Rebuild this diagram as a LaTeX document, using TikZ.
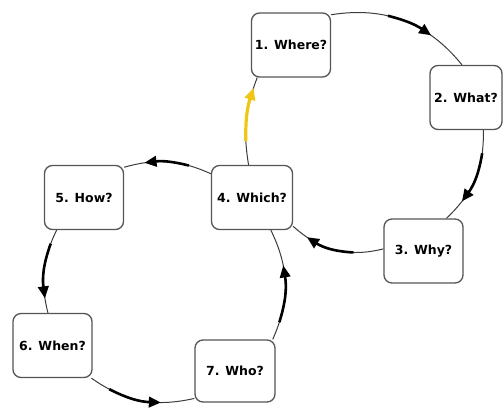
\documentclass[tikz,border=0pt]{standalone}
\usepackage{fontspec}
\setmainfont{DejaVu Sans}
\usetikzlibrary{arrows.meta}
\definecolor{arrowyellow}{RGB}{240,198,20}
\definecolor{boxgray}{RGB}{85,85,85}
\definecolor{linegray}{RGB}{60,60,60}
\newcommand\qconn[7][thickarrow]{%
  \pgfmathsetmacro\qsub{#5*(#7-#6)}%
  \draw[thinline] (#2) to[#4=#5] coordinate[pos=#6] (qa) coordinate[pos=#7] (qb) (#3);
  \draw[#1] (qa) to[#4=\qsub] (qb);
}
\begin{document}
\begin{tikzpicture}[x=1pt,y=1pt,
  qbox/.style={draw=boxgray, line width=1.3pt, rounded corners=8pt, minimum width=79pt,
    minimum height=64pt, font=\bfseries\fontsize{12.5}{14}\selectfont, inner sep=0pt, fill=white},
  thinline/.style={draw=linegray, line width=1pt},
  thickarrow/.style={draw=black, line width=2.6pt, -{Triangle[length=12pt,width=10.5pt]}},
  yellowarrow/.style={draw=arrowyellow, line width=3.2pt, -{Triangle[length=12pt,width=10.5pt]}},
]
\useasboundingbox (0,0) rectangle (503,-409);
\node[qbox] (n1) at (291,-45) {1. Where?};
\node[qbox, minimum width=72pt] (n2) at (466,-97.5) {2. What?};
\node[qbox] (n3) at (423.5,-251) {3. Why?};
\node[qbox, minimum width=81pt] (n4) at (252,-197.5) {4. Which?};
\node[qbox] (n5) at (84,-197.5) {5. How?};
\node[qbox] (n6) at (52.5,-345.5) {6. When?};
\node[qbox, minimum width=80pt, minimum height=62pt] (n7) at (235,-371) {7. Who?};

\qconn{n1.37}{n2.97}{bend left}{30}{0.38}{0.72}
\qconn{n2.-62}{n3.55}{bend left}{24}{0.22}{0.78}
\qconn{n3.177}{n4.-35}{bend left}{28}{0.3}{0.83}
\qconn[yellowarrow]{n4.96}{n1.-136}{bend left}{15}{0.25}{0.89}
\qconn{n4.150}{n5.37}{bend right}{20}{0.25}{0.78}
\qconn{n5.-130}{n6.98}{bend right}{20}{0.16}{0.84}
\qconn{n6.-40}{n7.-146}{bend right}{24}{0.18}{0.7}
\qconn{n7.40}{n4.-60}{bend right}{25}{0.15}{0.68}
\end{tikzpicture}
\end{document}
